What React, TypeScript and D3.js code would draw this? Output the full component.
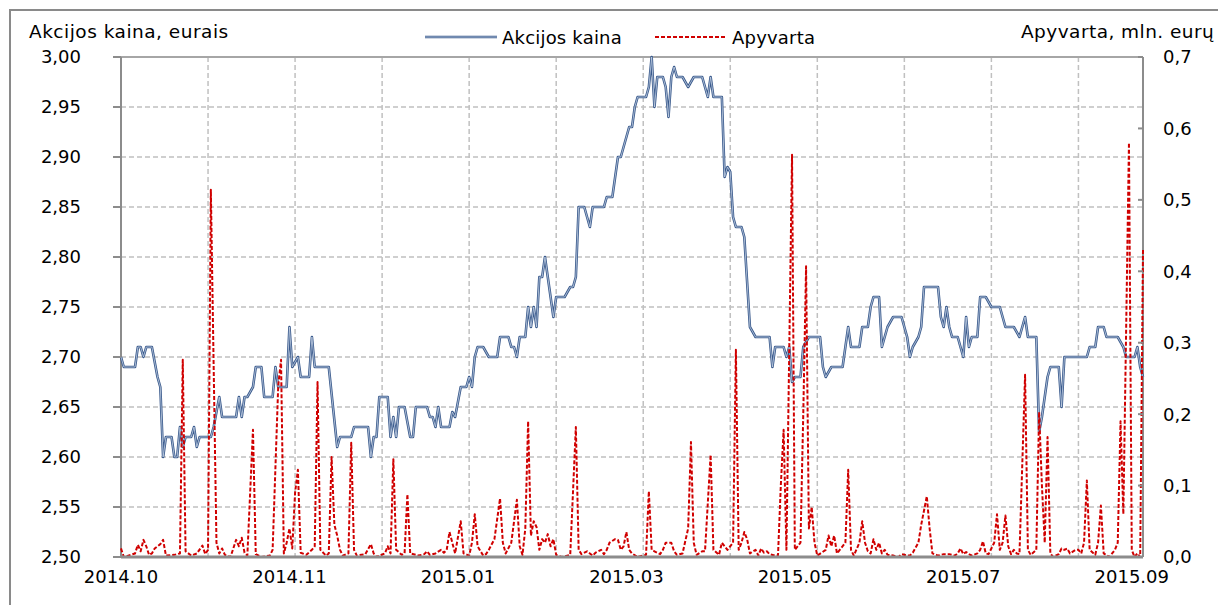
import React from "react";
import * as d3 from "d3";

// Akcijos kaina (eurais) – line vertices
const priceDates = [
  "2014-10-01", "2014-10-02", "2014-10-06", "2014-10-07", "2014-10-08", "2014-10-09", "2014-10-10", "2014-10-12",
  "2014-10-14", "2014-10-15", "2014-10-16", "2014-10-17", "2014-10-19", "2014-10-20", "2014-10-21", "2014-10-22",
  "2014-10-23", "2014-10-24", "2014-10-26", "2014-10-27", "2014-10-28", "2014-10-29", "2014-11-02", "2014-11-03",
  "2014-11-05", "2014-11-06", "2014-11-11", "2014-11-12", "2014-11-13", "2014-11-14", "2014-11-15", "2014-11-17",
  "2014-11-18", "2014-11-20", "2014-11-21", "2014-11-24", "2014-11-25", "2014-11-26", "2014-11-29", "2014-11-30",
  "2014-12-01", "2014-12-02", "2014-12-03", "2014-12-04", "2014-12-07", "2014-12-08", "2014-12-09", "2014-12-14",
  "2014-12-17", "2014-12-18", "2014-12-22", "2014-12-23", "2014-12-28", "2014-12-29", "2014-12-30", "2014-12-31",
  "2015-01-01", "2015-01-04", "2015-01-05", "2015-01-06", "2015-01-07", "2015-01-08", "2015-01-10", "2015-01-12",
  "2015-01-13", "2015-01-14", "2015-01-18", "2015-01-19", "2015-01-20", "2015-01-21", "2015-01-22", "2015-01-23",
  "2015-01-26", "2015-01-27", "2015-01-28", "2015-01-30", "2015-02-01", "2015-02-02", "2015-02-03", "2015-02-04",
  "2015-02-05", "2015-02-07", "2015-02-09", "2015-02-12", "2015-02-13", "2015-02-16", "2015-02-17", "2015-02-18",
  "2015-02-19", "2015-02-20", "2015-02-22", "2015-02-23", "2015-02-24", "2015-02-25", "2015-02-26", "2015-02-27",
  "2015-02-28", "2015-03-01", "2015-03-02", "2015-03-04", "2015-03-05", "2015-03-08", "2015-03-10", "2015-03-11",
  "2015-03-12", "2015-03-13", "2015-03-15", "2015-03-16", "2015-03-17", "2015-03-18", "2015-03-22", "2015-03-23",
  "2015-03-25", "2015-03-26", "2015-03-27", "2015-03-28", "2015-03-30", "2015-03-31", "2015-04-01", "2015-04-02",
  "2015-04-03", "2015-04-06", "2015-04-07", "2015-04-08", "2015-04-09", "2015-04-10", "2015-04-12", "2015-04-13",
  "2015-04-14", "2015-04-15", "2015-04-16", "2015-04-17", "2015-04-19", "2015-04-21", "2015-04-23", "2015-04-26",
  "2015-04-28", "2015-04-29", "2015-04-30", "2015-05-03", "2015-05-04", "2015-05-05", "2015-05-06", "2015-05-07",
  "2015-05-08", "2015-05-10", "2015-05-11", "2015-05-13", "2015-05-15", "2015-05-20", "2015-05-21", "2015-05-22",
  "2015-05-25", "2015-05-26", "2015-05-27", "2015-05-28", "2015-05-29", "2015-05-31", "2015-06-01", "2015-06-03",
  "2015-06-07", "2015-06-08", "2015-06-09", "2015-06-11", "2015-06-15", "2015-06-16", "2015-06-17", "2015-06-18",
  "2015-06-21", "2015-06-22", "2015-06-24", "2015-06-25", "2015-06-26", "2015-06-28", "2015-06-29", "2015-07-01",
  "2015-07-03", "2015-07-06", "2015-07-08", "2015-07-09", "2015-07-10", "2015-07-12", "2015-07-13", "2015-07-14",
  "2015-07-19", "2015-07-20", "2015-07-21", "2015-07-22", "2015-07-23", "2015-07-24", "2015-07-26", "2015-07-28",
  "2015-07-29", "2015-07-30", "2015-07-31", "2015-08-02", "2015-08-03", "2015-08-05", "2015-08-07", "2015-08-10",
  "2015-08-12", "2015-08-15", "2015-08-17", "2015-08-19", "2015-08-20", "2015-08-23", "2015-08-24", "2015-08-25",
  "2015-08-27", "2015-08-28", "2015-08-31", "2015-09-01", "2015-09-02", "2015-09-10", "2015-09-11", "2015-09-13",
  "2015-09-14", "2015-09-16", "2015-09-17", "2015-09-21", "2015-09-23", "2015-09-24", "2015-09-27", "2015-09-28",
  "2015-09-29", "2015-09-30",
];
const priceValues = [
  2.70, 2.69, 2.69, 2.71, 2.71, 2.70, 2.71, 2.71,
  2.68, 2.67, 2.60, 2.62, 2.62, 2.60, 2.60, 2.63,
  2.61, 2.62, 2.62, 2.63, 2.61, 2.62, 2.62, 2.63,
  2.66, 2.64, 2.64, 2.66, 2.64, 2.66, 2.66, 2.67,
  2.69, 2.69, 2.66, 2.66, 2.69, 2.67, 2.67, 2.73,
  2.69, 2.695, 2.70, 2.68, 2.68, 2.72, 2.69, 2.69,
  2.61, 2.62, 2.62, 2.63, 2.63, 2.60, 2.62, 2.62,
  2.66, 2.66, 2.62, 2.64, 2.62, 2.65, 2.65, 2.62,
  2.62, 2.65, 2.65, 2.64, 2.64, 2.63, 2.65, 2.63,
  2.63, 2.645, 2.64, 2.67, 2.67, 2.68, 2.67, 2.70,
  2.71, 2.71, 2.70, 2.70, 2.72, 2.72, 2.71, 2.71,
  2.70, 2.72, 2.72, 2.75, 2.73, 2.75, 2.73, 2.78,
  2.78, 2.80, 2.78, 2.74, 2.76, 2.76, 2.77, 2.77,
  2.78, 2.85, 2.85, 2.84, 2.83, 2.85, 2.85, 2.86,
  2.86, 2.88, 2.90, 2.90, 2.92, 2.93, 2.93, 2.95,
  2.96, 2.96, 2.97, 3.00, 2.95, 2.98, 2.98, 2.97,
  2.94, 2.98, 2.99, 2.98, 2.98, 2.97, 2.98, 2.98,
  2.96, 2.98, 2.96, 2.96, 2.88, 2.89, 2.885, 2.84,
  2.83, 2.83, 2.82, 2.73, 2.72, 2.72, 2.69, 2.71,
  2.71, 2.70, 2.71, 2.675, 2.68, 2.68, 2.71, 2.72,
  2.72, 2.69, 2.68, 2.69, 2.69, 2.71, 2.73, 2.71,
  2.71, 2.73, 2.73, 2.75, 2.76, 2.76, 2.71, 2.73,
  2.74, 2.74, 2.72, 2.70, 2.71, 2.72, 2.73, 2.77,
  2.77, 2.74, 2.73, 2.75, 2.73, 2.72, 2.72, 2.70,
  2.74, 2.71, 2.72, 2.72, 2.76, 2.76, 2.75, 2.75,
  2.73, 2.73, 2.72, 2.74, 2.72, 2.72, 2.625, 2.64,
  2.68, 2.69, 2.69, 2.65, 2.70, 2.70, 2.71, 2.71,
  2.73, 2.73, 2.72, 2.72, 2.71, 2.70, 2.70, 2.71,
  2.69, 2.68,
];

// Apyvarta (mln. eurų)
const turnoverDates = [
  "2014-10-01", "2014-10-02", "2014-10-06", "2014-10-07", "2014-10-08", "2014-10-09", "2014-10-10", "2014-10-11",
  "2014-10-12", "2014-10-13", "2014-10-15", "2014-10-16", "2014-10-17", "2014-10-20", "2014-10-22", "2014-10-23",
  "2014-10-24", "2014-10-26", "2014-10-28", "2014-10-30", "2014-10-31", "2014-11-01", "2014-11-02", "2014-11-04",
  "2014-11-05", "2014-11-06", "2014-11-07", "2014-11-09", "2014-11-10", "2014-11-11", "2014-11-12", "2014-11-13",
  "2014-11-14", "2014-11-15", "2014-11-17", "2014-11-18", "2014-11-20", "2014-11-23", "2014-11-24", "2014-11-26",
  "2014-11-27", "2014-11-28", "2014-11-29", "2014-11-30", "2014-12-01", "2014-12-02", "2014-12-03", "2014-12-04",
  "2014-12-06", "2014-12-08", "2014-12-09", "2014-12-10", "2014-12-11", "2014-12-13", "2014-12-14", "2014-12-15",
  "2014-12-16", "2014-12-17", "2014-12-18", "2014-12-19", "2014-12-21", "2014-12-22", "2014-12-23", "2014-12-24",
  "2014-12-27", "2014-12-29", "2014-12-30", "2014-12-31", "2015-01-03", "2015-01-04", "2015-01-05", "2015-01-06",
  "2015-01-07", "2015-01-09", "2015-01-10", "2015-01-11", "2015-01-12", "2015-01-15", "2015-01-17", "2015-01-18",
  "2015-01-19", "2015-01-21", "2015-01-23", "2015-01-24", "2015-01-25", "2015-01-26", "2015-01-27", "2015-01-28",
  "2015-01-30", "2015-01-31", "2015-02-02", "2015-02-03", "2015-02-04", "2015-02-05", "2015-02-07", "2015-02-08",
  "2015-02-09", "2015-02-11", "2015-02-13", "2015-02-14", "2015-02-15", "2015-02-17", "2015-02-18", "2015-02-19",
  "2015-02-20", "2015-02-21", "2015-02-22", "2015-02-23", "2015-02-24", "2015-02-25", "2015-02-26", "2015-02-27",
  "2015-02-28", "2015-03-01", "2015-03-02", "2015-03-03", "2015-03-04", "2015-03-05", "2015-03-07", "2015-03-10",
  "2015-03-12", "2015-03-13", "2015-03-14", "2015-03-16", "2015-03-17", "2015-03-18", "2015-03-19", "2015-03-21",
  "2015-03-22", "2015-03-23", "2015-03-24", "2015-03-26", "2015-03-27", "2015-03-28", "2015-03-29", "2015-03-30",
  "2015-03-31", "2015-04-01", "2015-04-03", "2015-04-06", "2015-04-07", "2015-04-08", "2015-04-09", "2015-04-11",
  "2015-04-12", "2015-04-13", "2015-04-15", "2015-04-16", "2015-04-17", "2015-04-19", "2015-04-21", "2015-04-22",
  "2015-04-23", "2015-04-24", "2015-04-26", "2015-04-27", "2015-04-29", "2015-04-30", "2015-05-02", "2015-05-03",
  "2015-05-04", "2015-05-05", "2015-05-07", "2015-05-08", "2015-05-09", "2015-05-10", "2015-05-11", "2015-05-12",
  "2015-05-13", "2015-05-15", "2015-05-16", "2015-05-17", "2015-05-18", "2015-05-19", "2015-05-20", "2015-05-22",
  "2015-05-23", "2015-05-24", "2015-05-25", "2015-05-26", "2015-05-28", "2015-05-29", "2015-05-31", "2015-06-01",
  "2015-06-02", "2015-06-03", "2015-06-04", "2015-06-05", "2015-06-06", "2015-06-09", "2015-06-10", "2015-06-11",
  "2015-06-12", "2015-06-13", "2015-06-14", "2015-06-16", "2015-06-17", "2015-06-18", "2015-06-19", "2015-06-21",
  "2015-06-22", "2015-06-23", "2015-06-24", "2015-06-25", "2015-06-26", "2015-06-27", "2015-06-28", "2015-06-29",
  "2015-06-30", "2015-07-01", "2015-07-03", "2015-07-05", "2015-07-06", "2015-07-08", "2015-07-09", "2015-07-10",
  "2015-07-12", "2015-07-13", "2015-07-14", "2015-07-15", "2015-07-16", "2015-07-17", "2015-07-19", "2015-07-21",
  "2015-07-23", "2015-07-25", "2015-07-26", "2015-07-27", "2015-07-28", "2015-07-29", "2015-07-30", "2015-07-31",
  "2015-08-02", "2015-08-03", "2015-08-04", "2015-08-05", "2015-08-06", "2015-08-08", "2015-08-09", "2015-08-10",
  "2015-08-11", "2015-08-12", "2015-08-13", "2015-08-14", "2015-08-15", "2015-08-16", "2015-08-17", "2015-08-19",
  "2015-08-20", "2015-08-21", "2015-08-23", "2015-08-24", "2015-08-25", "2015-08-26", "2015-08-27", "2015-08-28",
  "2015-08-29", "2015-08-31", "2015-09-01", "2015-09-02", "2015-09-03", "2015-09-04", "2015-09-06", "2015-09-07",
  "2015-09-08", "2015-09-09", "2015-09-10", "2015-09-11", "2015-09-13", "2015-09-14", "2015-09-15", "2015-09-16",
  "2015-09-18", "2015-09-19", "2015-09-20", "2015-09-21", "2015-09-22", "2015-09-23", "2015-09-25", "2015-09-26",
  "2015-09-27", "2015-09-28", "2015-09-29", "2015-09-30",
];
const turnoverValues = [
  0.012, 0, 0.005, 0.017, 0.008, 0.024, 0.015, 0.003,
  0.005, 0.012, 0.018, 0.024, 0.002, 0.003, 0.005, 0.276,
  0.008, 0.002, 0.005, 0.016, 0.004, 0.01, 0.514, 0.02,
  0.005, 0.012, 0.003, 0, 0.012, 0.024, 0.015, 0.027,
  0.006, 0.002, 0.178, 0.004, 0, 0.002, 0.01, 0.24,
  0.276, 0.005, 0.02, 0.04, 0.012, 0.09, 0.122, 0.006,
  0.003, 0.01, 0.015, 0.245, 0.01, 0.002, 0.005, 0.14,
  0.045, 0.03, 0.01, 0.002, 0.005, 0.16, 0.01, 0.002,
  0.004, 0.018, 0.005, 0, 0.005, 0.015, 0.005, 0.137,
  0.01, 0.003, 0.005, 0.088, 0.005, 0.002, 0.004, 0.008,
  0.003, 0.005, 0.01, 0.006, 0.01, 0.035, 0.02, 0.005,
  0.05, 0.005, 0.002, 0.02, 0.06, 0.015, 0.002, 0.004,
  0.01, 0.025, 0.082, 0.02, 0.005, 0.02, 0.05, 0.08,
  0.015, 0.003, 0.04, 0.19, 0.03, 0.05, 0.042, 0.01,
  0.025, 0.02, 0.032, 0.015, 0.025, 0.003, 0, 0.003,
  0.182, 0.01, 0.004, 0.008, 0.005, 0.002, 0.006, 0.01,
  0.004, 0.01, 0.02, 0.025, 0.024, 0.01, 0.015, 0.035,
  0.01, 0.005, 0, 0.003, 0.092, 0.01, 0.008, 0.004,
  0.01, 0.02, 0.02, 0.008, 0.003, 0.005, 0.04, 0.161,
  0.02, 0.003, 0.008, 0.008, 0.143, 0.01, 0.003, 0.02,
  0.015, 0.01, 0.02, 0.29, 0.01, 0.02, 0.035, 0.025,
  0.005, 0.01, 0.002, 0.012, 0.006, 0.008, 0.004, 0.002,
  0.002, 0.1, 0.178, 0.01, 0.563, 0.01, 0.02, 0.2,
  0.407, 0.04, 0.07, 0.02, 0.002, 0.01, 0.03, 0.015,
  0.03, 0.005, 0.01, 0.02, 0.122, 0.01, 0.002, 0.02,
  0.05, 0.02, 0.008, 0.005, 0.025, 0.01, 0.02, 0.005,
  0.01, 0.003, 0.002, 0, 0.004, 0.002, 0.002, 0.006,
  0.02, 0.045, 0.065, 0.085, 0.04, 0.005, 0.002, 0.004,
  0.004, 0.002, 0.005, 0.012, 0.004, 0.007, 0.004, 0.002,
  0.005, 0.01, 0.022, 0.005, 0.004, 0.02, 0.06, 0.01,
  0.02, 0.058, 0.015, 0.004, 0.01, 0.005, 0.004, 0.255,
  0.01, 0.003, 0.01, 0.203, 0.1, 0.02, 0.168, 0.005,
  0, 0.004, 0.012, 0.01, 0.012, 0.005, 0.01, 0.01,
  0.005, 0.02, 0.107, 0.01, 0.003, 0.02, 0.072, 0.005,
  0, 0.005, 0.01, 0.02, 0.19, 0.06, 0.58, 0.01,
  0, 0.005, 0, 0.43,
];

const priceTicks = [2.5, 2.55, 2.6, 2.65, 2.7, 2.75, 2.8, 2.85, 2.9, 2.95, 3.0];
const turnoverTicks = [0, 0.1, 0.2, 0.3, 0.4, 0.5, 0.6, 0.7];
const xLabelDates = ["2014-10-01", "2014-11-30", "2015-01-29", "2015-03-30", "2015-05-29", "2015-07-28", "2015-09-26"];
const gridDates = [
  "2014-11-01", "2014-12-02", "2015-01-02", "2015-02-02", "2015-03-05", "2015-04-05",
  "2015-05-06", "2015-06-06", "2015-07-07", "2015-08-07", "2015-09-07",
];

const W = 1218;
const H = 605;
const plot = { left: 121, right: 1143, top: 57, bottom: 557 };
const FONT = "DejaVu Sans, Verdana, sans-serif";
const BLUE = "#3a5a8c";
const BLUE_CORE = "#c3d1e4";
const RED = "#d00000";
const AXIS = "#8c8c8c";
const GRID = "#c0c0c0";

const parse = d3.utcParse("%Y-%m-%d");

export default function App() {
  const x = d3
    .scaleUtc()
    .domain([parse("2014-10-01")!, parse("2015-09-30")!])
    .range([plot.left, plot.right]);
  const yL = d3.scaleLinear().domain([2.5, 3.0]).range([plot.bottom, plot.top]);
  const yR = d3.scaleLinear().domain([0, 0.7]).range([plot.bottom, plot.top]);

  const price = priceDates.map((d, i) => [parse(d)!, priceValues[i]] as [Date, number]);
  const turnover = turnoverDates.map((d, i) => [parse(d)!, turnoverValues[i]] as [Date, number]);

  const priceLine = d3
    .line<[Date, number]>()
    .x((d) => x(d[0]))
    .y((d) => yL(d[1]))(price)!;
  const turnoverLine = d3
    .line<[Date, number]>()
    .x((d) => x(d[0]))
    .y((d) => yR(d[1]))(turnover)!;

  const fmtL = (v: number) => d3.format(".2f")(v).replace(".", ",");
  const fmtR = (v: number) => d3.format(".1f")(v).replace(".", ",");
  const fmtX = d3.utcFormat("%Y.%m");

  return (
    <svg
      width={W}
      height={H}
      style={{ position: "absolute", left: 0, top: 0, background: "#fff" }}
      fontFamily={FONT}
    >
      <rect x={0} y={0} width={W} height={H} fill="#fff" />
      {/* outer frame */}
      <path d={`M10,${H} V10 H${W}`} fill="none" stroke="#8a8a8a" strokeWidth={2} />

      {/* horizontal grid */}
      {priceTicks
        .filter((t) => t > 2.5 && t < 3.0)
        .map((t) => (
          <line
            key={"h" + t}
            x1={plot.left}
            x2={plot.right}
            y1={yL(t)}
            y2={yL(t)}
            stroke={GRID}
            strokeWidth={1.5}
            strokeDasharray="5,3"
          />
        ))}
      {/* vertical grid */}
      {gridDates.map((d) => (
        <line
          key={"v" + d}
          x1={x(parse(d)!)}
          x2={x(parse(d)!)}
          y1={plot.top}
          y2={plot.bottom}
          stroke={GRID}
          strokeWidth={1.5}
          strokeDasharray="5,3"
        />
      ))}

      {/* plot border / axes */}
      <line x1={plot.left} x2={plot.right} y1={plot.top} y2={plot.top} stroke="#a6a6a6" strokeWidth={2} />
      <line x1={plot.left} x2={plot.left} y1={plot.top} y2={plot.bottom} stroke={AXIS} strokeWidth={2} />
      <line x1={plot.right} x2={plot.right} y1={plot.top} y2={plot.bottom} stroke={AXIS} strokeWidth={2} />

      {/* price line */}
      <path d={priceLine} fill="none" stroke={BLUE} strokeWidth={2.6} strokeLinejoin="round" />
      <path d={priceLine} fill="none" stroke={BLUE_CORE} strokeWidth={0.8} strokeLinejoin="round" />

      {/* turnover line */}
      <path
        d={turnoverLine}
        fill="none"
        stroke={RED}
        strokeWidth={2}
        strokeDasharray="4,2"
        strokeLinejoin="round"
      />

      <line x1={plot.left} x2={plot.right} y1={plot.bottom} y2={plot.bottom} stroke={AXIS} strokeWidth={3} />

      {/* left axis */}
      {priceTicks.map((t) => (
        <g key={"l" + t}>
          <line x1={plot.left - 8} x2={plot.left} y1={yL(t)} y2={yL(t)} stroke={AXIS} strokeWidth={2} />
          <text x={81} y={yL(t)} dy="0.36em" textAnchor="end" fontSize={18} fill="#000">
            {fmtL(t)}
          </text>
        </g>
      ))}

      {/* right axis */}
      {turnoverTicks.map((t) => (
        <g key={"r" + t}>
          <line x1={plot.right - 5} x2={plot.right} y1={yR(t)} y2={yR(t)} stroke={AXIS} strokeWidth={2} />
          <text x={1163} y={yR(t)} dy="0.36em" textAnchor="start" fontSize={18} fill="#000">
            {fmtR(t)}
          </text>
        </g>
      ))}

      {/* x labels */}
      {xLabelDates.map((d) => (
        <text key={"x" + d} x={x(parse(d)!)} y={583} textAnchor="middle" fontSize={18} fill="#000">
          {fmtX(parse(d)!)}
        </text>
      ))}

      {/* axis titles */}
      <text x={29} y={38} fontSize={18.5} letterSpacing={0.5} fill="#000">
        Akcijos kaina, eurais
      </text>
      <text x={1021} y={38} fontSize={18.5} letterSpacing={0.45} fill="#000">
        Apyvarta, mln. eurų
      </text>

      {/* legend */}
      <line x1={425} x2={497} y1={37} y2={37} stroke={BLUE} strokeWidth={2.6} />
      <line x1={425} x2={497} y1={37} y2={37} stroke={BLUE_CORE} strokeWidth={0.8} />
      <text x={502} y={44} fontSize={18} letterSpacing={0.2} fill="#000">
        Akcijos kaina
      </text>
      <line x1={655} x2={725} y1={37} y2={37} stroke={RED} strokeWidth={2} strokeDasharray="4,2" />
      <text x={732} y={44} fontSize={18} letterSpacing={0.2} fill="#000">
        Apyvarta
      </text>
    </svg>
  );
}
